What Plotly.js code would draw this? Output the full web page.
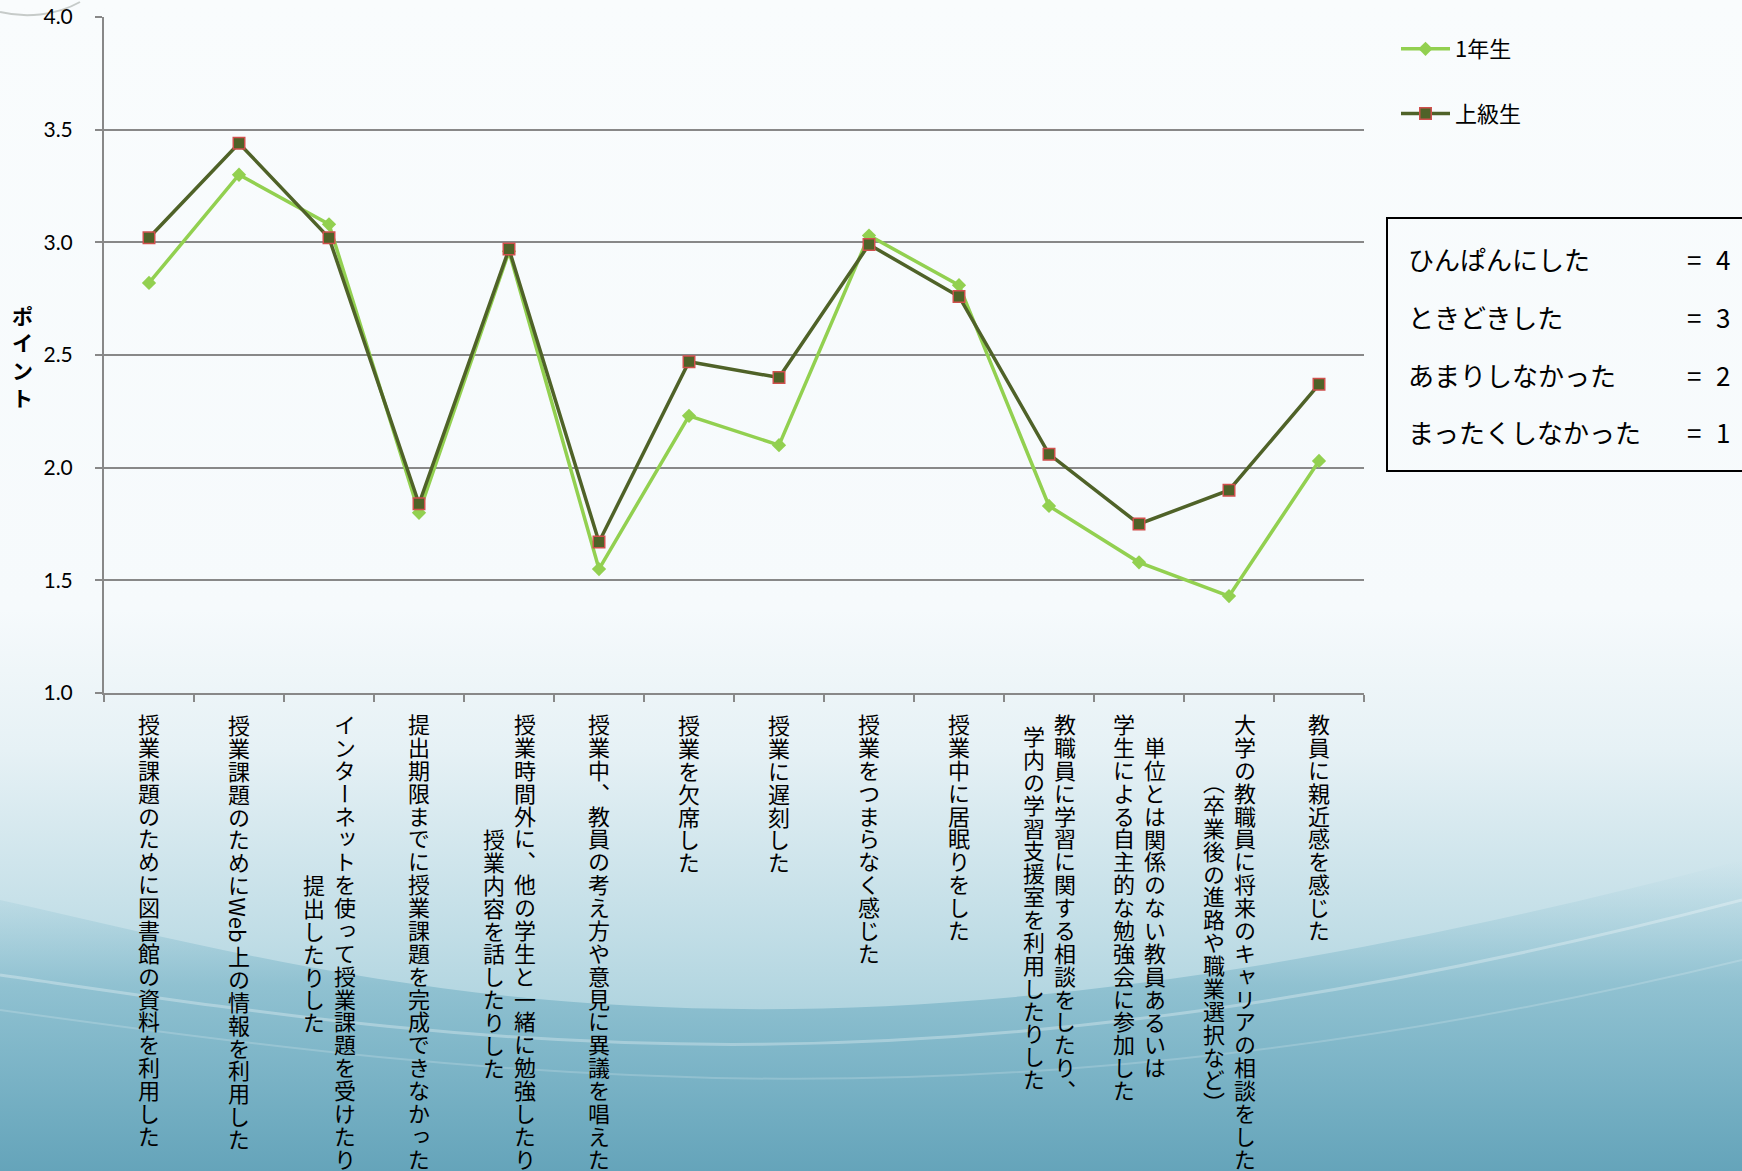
<!DOCTYPE html>
<html><head><meta charset="utf-8">
<script src="https://cdn.plot.ly/plotly-3.0.1.min.js"></script>
<style>html,body{margin:0;padding:0;background:#f8fbfc;} #chart{width:1742px;height:1171px;}</style>
</head><body><div id="chart"></div>
<script>
// ---- data ----
const categories = [
  "授業課題のために図書館の資料を利用した",
  "授業課題のためにWeb上の情報を利用した",
  "インターネットを使って授業課題を受けたり、\n提出したりした",
  "提出期限までに授業課題を完成できなかった",
  "授業時間外に、他の学生と一緒に勉強したり、\n授業内容を話したりした",
  "授業中、教員の考え方や意見に異議を唱えた",
  "授業を欠席した",
  "授業に遅刻した",
  "授業をつまらなく感じた",
  "授業中に居眠りをした",
  "教職員に学習に関する相談をしたり、\n学内の学習支援室を利用したりした",
  "単位とは関係のない教員あるいは\n学生による自主的な勉強会に参加した",
  "大学の教職員に将来のキャリアの相談をした\n（卒業後の進路や職業選択など）",
  "教員に親近感を感じた"
];
const firstYear = [2.82, 3.30, 3.08, 1.80, 2.96, 1.55, 2.23, 2.10, 3.03, 2.81, 1.83, 1.58, 1.43, 2.03];
const upperYear = [3.02, 3.44, 3.02, 1.84, 2.97, 1.67, 2.47, 2.40, 2.99, 2.76, 2.06, 1.75, 1.90, 2.37];
const seriesNames = ["1年生", "上級生"];
const yTitle = "ポイント";
const scaleLabels = ["ひんぱんにした", "ときどきした", "あまりしなかった", "まったくしなかった"];
const scaleValues = [4, 3, 2, 1];
const yTickVals = [1.0, 1.5, 2.0, 2.5, 3.0, 3.5, 4.0];

// ---- geometry / style ----
const FW = 1742, FH = 1171;
const L = 104, R = 1364, T = 17, B = 693;
const px2x = px => (px - L) / (R - L);
const py2y = py => (B - py) / (B - T);
const JP = '"Noto Sans CJK JP", "Noto Sans", sans-serif';
const NUM = 'Lato, "Open Sans", sans-serif';
const GRID = '#888888';

const BASE = 17.6;            // line pitch = 1.3 * BASE
const GLYPH = 22;
const PITCH = 1.3 * BASE;
const COLGAP = 31;
const LABEL_TOP = 19;         // px below the x axis
const LATIN_EM = 0.74;

const annotations = [];
const isLatin = s => /^[A-Za-z0-9]+$/.test(s);
const runLen = r => isLatin(r) ? r.length * LATIN_EM * GLYPH : Array.from(r).length * PITCH;

categories.forEach((cat, i) => {
  const cols = cat.split("\n").map(c => c.match(/[A-Za-z0-9]+|[^A-Za-z0-9]+/g));
  const colLens = cols.map(runs => runs.reduce((s, r) => s + runLen(r), 0));
  const blockLen = Math.max(...colLens);
  cols.forEach((runs, j) => {
    const xshift = ((cols.length - 1) / 2 - j) * COLGAP;
    let pos = LABEL_TOP + (blockLen - colLens[j]) / 2;
    runs.forEach(r => {
      const len = runLen(r);
      const center = pos + len / 2;
      if (isLatin(r)) {
        annotations.push({
          xref: 'x', yref: 'paper', x: i, y: 0, xanchor: 'center', yanchor: 'middle',
          xshift: xshift, yshift: -center, textangle: 90,
          text: r, showarrow: false, font: {family: JP, size: GLYPH, color: '#000'}
        });
      } else {
        const text = Array.from(r).map(ch =>
          `<span style="font-size:${GLYPH}px;font-feature-settings:'vert' 1">${ch}</span>`).join('<br>');
        annotations.push({
          xref: 'x', yref: 'paper', x: i, y: 0, xanchor: 'center', yanchor: 'middle',
          xshift: xshift, yshift: -center,
          text: text, showarrow: false, align: 'center',
          font: {family: JP, size: BASE, color: '#000'}
        });
      }
      pos += len;
    });
  });
});

annotations.push({
  xref: 'paper', yref: 'paper', x: px2x(22), y: py2y(356), xanchor: 'center', yanchor: 'middle',
  text: Array.from(yTitle).join('<br>'), showarrow: false,
  font: {family: JP, size: 21, color: '#000', weight: 'bold'}
});

scaleLabels.forEach((lab, i) => {
  const py = 258.5 + i * 57.8;
  annotations.push({
    xref: 'paper', yref: 'paper', x: px2x(1406), y: py2y(py), xanchor: 'left', yanchor: 'middle',
    text: lab, showarrow: false, font: {family: JP, size: 26, color: '#000'}
  });
  annotations.push({
    xref: 'paper', yref: 'paper', x: px2x(1694), y: py2y(py), xanchor: 'center', yanchor: 'middle',
    text: '=', showarrow: false, font: {family: JP, size: 26, color: '#000'}
  });
  annotations.push({
    xref: 'paper', yref: 'paper', x: px2x(1723), y: py2y(py), xanchor: 'center', yanchor: 'middle',
    text: String(scaleValues[i]), showarrow: false, font: {family: JP, size: 26, color: '#000'}
  });
});

const bgSvg = `<svg xmlns="http://www.w3.org/2000/svg" width="1742" height="1171" viewBox="0 0 1742 1171" preserveAspectRatio="none">
<defs>
<linearGradient id="g" x1="0" y1="0" x2="0" y2="1">
<stop offset="0" stop-color="#f9fcfd"/>
<stop offset="0.52" stop-color="#f6fafc"/>
<stop offset="0.64" stop-color="#e6f1f5"/>
<stop offset="0.8" stop-color="#c0dde6"/>
<stop offset="1" stop-color="#8ec1d1"/>
</linearGradient>
<linearGradient id="d" x1="0" y1="0" x2="0" y2="1">
<stop offset="0" stop-color="#9ccad8" stop-opacity="0"/>
<stop offset="0.4" stop-color="#80b8ca" stop-opacity="0.7"/>
<stop offset="1" stop-color="#65a4ba" stop-opacity="1"/>
</linearGradient>
</defs>
<rect width="1742" height="1171" fill="url(#g)"/>
<path d="M0,900 C400,990 800,1110 1742,860 L1742,1171 L0,1171 Z" fill="url(#d)"/>
<path d="M0,975 C450,1040 900,1120 1742,900" fill="none" stroke="#ffffff" stroke-opacity="0.3" stroke-width="3"/>
<path d="M0,1010 C500,1080 1000,1140 1742,960" fill="none" stroke="#ffffff" stroke-opacity="0.18" stroke-width="2"/>
<path d="M0,12 C25,18 55,16 80,2" fill="none" stroke="#c6cbc9" stroke-width="2"/>
</svg>`;

const traces = [
  {
    x: categories, y: firstYear, name: seriesNames[0], type: 'scatter', mode: 'lines+markers',
    legendgroup: 'a',
    line: {color: '#92D050', width: 3.5},
    marker: {symbol: 'diamond', size: 11, color: '#92D050', line: {width: 0}}
  },
  {
    x: categories, y: upperYear, name: seriesNames[1], type: 'scatter', mode: 'lines+markers',
    legendgroup: 'b',
    line: {color: '#4F6228', width: 3.5},
    marker: {symbol: 'square', size: 11.5, color: '#4F6228', line: {color: '#D0504D', width: 1.5}}
  }
];

const layout = {
  width: FW, height: FH,
  margin: {l: L, r: FW - R, t: T, b: FH - B, autoexpand: false},
  paper_bgcolor: '#f8fbfc', plot_bgcolor: 'rgba(0,0,0,0)',
  showlegend: true,
  legend: {
    x: px2x(1396), y: py2y(28), xanchor: 'left', yanchor: 'top',
    bgcolor: 'rgba(0,0,0,0)', tracegroupgap: 33, itemwidth: 49,
    font: {family: JP, size: 22, color: '#000'}
  },
  xaxis: {
    type: 'category', range: [-0.5, categories.length - 0.5],
    showgrid: false, zeroline: false, showline: true, linecolor: GRID, linewidth: 2,
    ticks: 'outside', tickson: 'boundaries', ticklen: 7, tickcolor: GRID, tickwidth: 2,
    showticklabels: false, fixedrange: true
  },
  yaxis: {
    range: [1, 4], tickvals: yTickVals, tickformat: '.1f',
    showgrid: true, gridcolor: GRID, gridwidth: 2, zeroline: false,
    showline: true, linecolor: GRID, linewidth: 2,
    ticks: 'outside', ticklen: 7, tickcolor: GRID, tickwidth: 2,
    ticklabelstandoff: 18,
    tickfont: {family: NUM, size: 21, color: '#000'}, fixedrange: true
  },
  annotations: annotations,
  shapes: [{
    type: 'rect', xref: 'paper', yref: 'paper',
    x0: px2x(1387), x1: px2x(1752), y0: py2y(471), y1: py2y(218),
    line: {color: '#000', width: 2}, fillcolor: 'rgba(0,0,0,0)'
  }],
  images: [{
    source: 'data:image/svg+xml;charset=utf-8,' + encodeURIComponent(bgSvg),
    xref: 'paper', yref: 'paper', x: px2x(0), y: py2y(0),
    sizex: FW / (R - L), sizey: FH / (B - T), xanchor: 'left', yanchor: 'top',
    sizing: 'stretch', layer: 'below'
  }]
};

Plotly.newPlot('chart', traces, layout, {displayModeBar: false, staticPlot: true});
</script>
</body></html>
